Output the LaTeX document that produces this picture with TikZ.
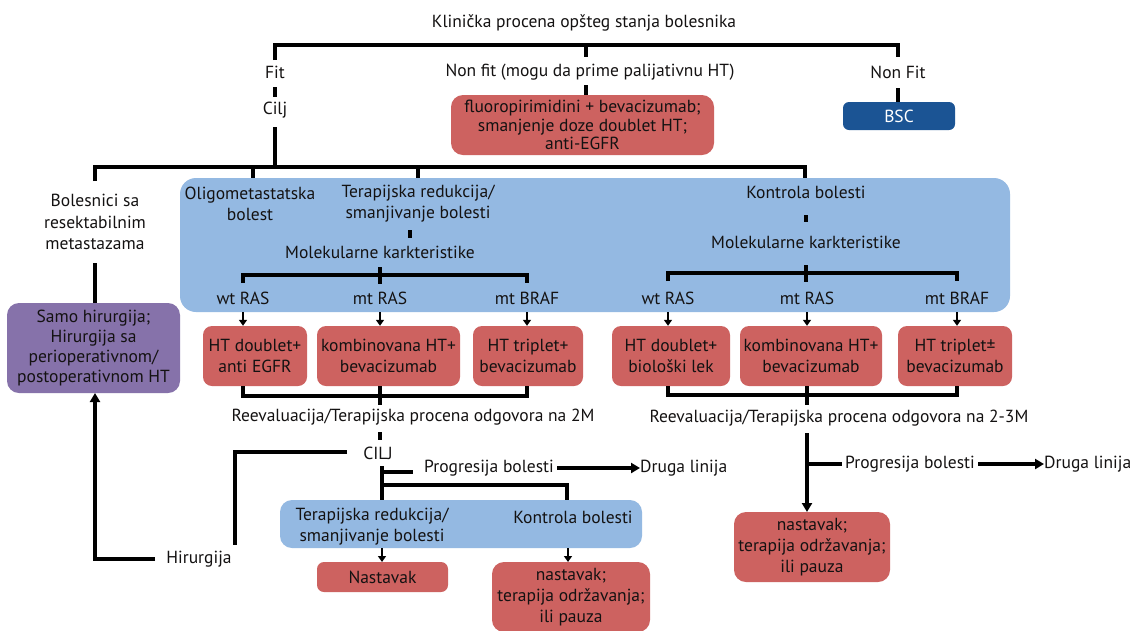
\documentclass[tikz,border=0pt]{standalone}
\usepackage{fontspec}
\setmainfont{PT Sans}
\usetikzlibrary{arrows.meta}
\definecolor{boxred}{RGB}{205,98,96}
\definecolor{boxblue}{RGB}{148,185,226}
\definecolor{boxpurple}{RGB}{134,114,170}
\definecolor{bscblue}{RGB}{27,84,148}
\definecolor{txtc}{RGB}{20,18,18}
\begin{document}
\begin{tikzpicture}[x=1pt,y=-1pt,
  font=\fontsize{17.5}{21}\selectfont,
  lbl/.style={inner sep=0pt, align=center, text=txtc},
  bx/.style={rounded corners=9pt, inner sep=0pt, align=center, text=txtc},
  redbx/.style={bx, fill=boxred, minimum height=60pt},
  ln/.style={line width=3.4pt, line cap=butt, line join=miter, draw=black},
  arr/.style={line width=2.6pt, draw=black, -{Triangle[length=6pt,width=8pt]}},
  bigarr/.style={line width=3.2pt, draw=black, -{Triangle[length=9pt,width=10pt]}},
]
\useasboundingbox (0,0) rectangle (1138,630);
\fill[white] (0,0) rectangle (1138,630);

% big blue background boxes
\node[bx, fill=boxblue, minimum width=830pt, minimum height=134pt, rounded corners=16pt] (big) at (595,245) {};
\node[bx, fill=boxblue, minimum width=362pt, minimum height=48pt, rounded corners=12pt] (blue2) at (461,524) {};

% top level
\node[lbl] (title) at (584,23) {Klinička procena opšteg stanja bolesnika};
\node[lbl] (fit) at (275,72) {Fit};
\node[lbl] (cilj) at (275,110) {Cilj};
\node[lbl] (nonfit) at (590,72) {Non fit (mogu da prime palijativnu HT)};
\node[lbl] (nonFit) at (898,72) {Non Fit};
\node[redbx, minimum width=263pt, rounded corners=12pt, font=\fontsize{17.5}{18.5}\selectfont] (nfbox) at (582.5,125) {fluoropirimidini + bevacizumab;\\smanjenje doze doublet HT;\\anti-EGFR};
\node[bx, fill=bscblue, text=white, minimum width=112pt, minimum height=28pt, rounded corners=6pt] (bsc) at (899,116) {BSC};

% second level
\node[lbl, font=\fontsize{17.5}{21.5}\selectfont] (boles) at (95,222) {Bolesnici sa\\resektabilnim\\metastazama};
\node[bx, fill=boxpurple, minimum width=173pt, minimum height=90pt, rounded corners=12pt, font=\fontsize{17.5}{20}\selectfont] (purple) at (93.5,348) {Samo hirurgija;\\Hirurgija sa\\perioperativnom/\\postoperativnom HT};
\node[lbl] (oligo) at (250,204) {Oligometastatska\\bolest};
\node[lbl] (terap) at (418,204) {Terapijska redukcija/\\smanjivanje bolesti};
\node[lbl] (kontr) at (806,192) {Kontrola bolesti};
\node[lbl] (mol1) at (380,252) {Molekularne karkteristike};
\node[lbl] (mol2) at (806,242) {Molekularne karkteristike};
\node[lbl] (wt1) at (243,298) {wt RAS};
\node[lbl] (mt1) at (380,298) {mt RAS};
\node[lbl] (br1) at (527,298) {mt BRAF};
\node[lbl] (wt2) at (668,298) {wt RAS};
\node[lbl] (mt2) at (807,298) {mt RAS};
\node[lbl] (br2) at (957,298) {mt BRAF};

% red therapy boxes
\node[redbx, minimum width=104pt] (r1) at (255,356) {HT doublet+\\anti EGFR};
\node[redbx, minimum width=143pt] (r2) at (388.5,356) {kombinovana HT+\\bevacizumab};
\node[redbx, minimum width=110pt] (r3) at (528,356) {HT triplet+\\bevacizumab};
\node[redbx, minimum width=118pt] (r4) at (671,356) {HT doublet+\\biološki lek};
\node[redbx, minimum width=142pt] (r5) at (811,356) {kombinovana HT+\\bevacizumab};
\node[redbx, minimum width=114pt] (r6) at (955,356) {HT triplet±\\bevacizumab};

% evaluation
\node[lbl] (reev1) at (413,417) {Reevaluacija/Terapijska procena odgovora na 2M};
\node[lbl] (reev2) at (839,418) {Reevaluacija/Terapijska procena odgovora na 2-3M};
\node[lbl] (cilj2) at (378,453) {CILJ};
\node[lbl] (prog1) at (489,468) {Progresija bolesti};
\node[lbl, anchor=west] (druga1) at (640,468) {Druga linija};
\node[lbl] (prog2) at (910,464) {Progresija bolesti};
\node[lbl, anchor=west] (druga2) at (1044,464) {Druga linija};
\node[lbl] (hir) at (199,559) {Hirurgija};
\node[lbl] (terap2) at (372,527) {Terapijska redukcija/\\smanjivanje bolesti};
\node[lbl] (kontr2) at (573,517) {Kontrola bolesti};
\node[bx, fill=boxred, minimum width=131pt, minimum height=30pt, rounded corners=7pt] (nast1) at (382.5,577) {Nastavak};
\node[bx, fill=boxred, minimum width=158pt, minimum height=70pt, rounded corners=12pt] (nast2) at (571,597) {nastavak;\\terapija održavanja;\\ili pauza};
\node[bx, fill=boxred, minimum width=156pt, minimum height=70pt, rounded corners=12pt] (nast3) at (812,547) {nastavak;\\terapija održavanja;\\ili pauza};

% ---- connectors ----
\draw[ln] (275,60) -- (275,45) -- (898,45) -- (898,57);
\draw[ln] (586,45) -- (586,57);
\draw[ln] (275,87) -- (275,97);
\draw[ln] (586,85) -- (586,95);
\draw[ln] (898,88) -- (898,102);
\draw[ln] (275,127) -- (275,167);
\draw[ln] (95,181) -- (95,167) -- (805,167) -- (805,178);
\draw[ln] (253,167) -- (253,178);
\draw[ln] (418,167) -- (418,178);
\draw[ln] (95,263) -- (95,303);
\draw[ln] (410,230) -- (410,238);
\draw[ln] (806,215) -- (806,222);
\draw[ln] (243,283) -- (243,275) -- (527,275) -- (527,283);
\draw[ln] (380,267) -- (380,284);
\draw[ln] (668,281) -- (668,273) -- (957,273) -- (957,281);
\draw[ln] (806,265) -- (806,282);
\foreach \n/\b in {wt1/r1, mt1/r2, br1/r3, wt2/r4, mt2/r5, br2/r6}
  \draw[arr] (\n |- big.south) -- (\n |- \b.north);
\draw[ln] (243,386) -- (243,396) -- (527,396) -- (527,386);
\draw[ln] (380,386) -- (380,405);
\draw[ln] (668,386) -- (668,395) -- (957,395) -- (957,386);
\draw[ln] (807,386) -- (807,405);
\draw[ln] (380,432) -- (380,440);
\draw[ln] (347,452) -- (235,452) -- (235,545);
\draw[ln] (382,466) -- (382,500);
\draw[ln] (382,472) -- (413,472);
\draw[ln] (382,485) -- (567,485) -- (567,500);
\draw[bigarr] (557,468) -- (druga1.west);
\draw[arr] (382,548) -- (382,562);
\draw[arr] (568,548) -- (568,562);
\draw[bigarr] (155,559) -- (95,559) -- (95,393);
\draw[bigarr] (807,433) -- (807,512);
\draw[ln] (807,464) -- (842,464);
\draw[bigarr] (978,464) -- (druga2.west);
\end{tikzpicture}
\end{document}
